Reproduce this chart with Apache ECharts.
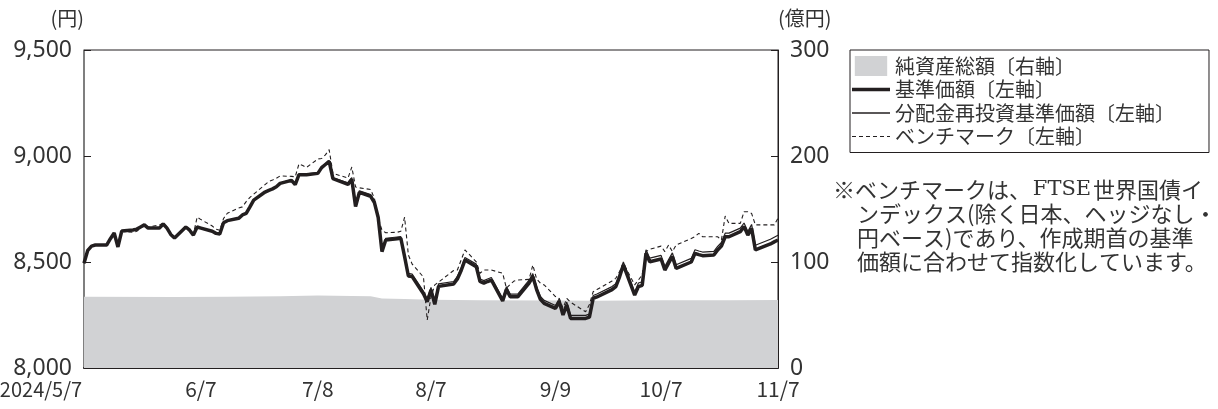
<!DOCTYPE html>
<html><head><meta charset="utf-8">
<script src="https://cdn.jsdelivr.net/npm/echarts@6/dist/echarts.min.js"></script>
<style>html,body{margin:0;padding:0;background:#fff}#c{width:1218px;height:409px}</style>
</head><body><div id="c"></div>
<script>
// ---- data ----
const dates = [
'2024-05-07','2024-05-08','2024-05-09','2024-05-10','2024-05-13','2024-05-14','2024-05-15','2024-05-16','2024-05-17','2024-05-20',
'2024-05-21','2024-05-22','2024-05-23','2024-05-24','2024-05-27','2024-05-28','2024-05-29','2024-05-30','2024-05-31',
'2024-06-03','2024-06-04','2024-06-05','2024-06-06','2024-06-07','2024-06-10','2024-06-11','2024-06-12','2024-06-13','2024-06-14',
'2024-06-17','2024-06-18','2024-06-19','2024-06-20','2024-06-21','2024-06-24','2024-06-25','2024-06-26','2024-06-27','2024-06-28',
'2024-07-01','2024-07-02','2024-07-03','2024-07-04','2024-07-05','2024-07-08','2024-07-09','2024-07-10','2024-07-11','2024-07-12',
'2024-07-16','2024-07-17','2024-07-18','2024-07-19','2024-07-22','2024-07-23','2024-07-24','2024-07-25','2024-07-26','2024-07-29',
'2024-07-30','2024-07-31',
'2024-08-01','2024-08-02','2024-08-05','2024-08-06','2024-08-07','2024-08-08','2024-08-09','2024-08-13','2024-08-14','2024-08-15',
'2024-08-16','2024-08-19','2024-08-20','2024-08-21','2024-08-22','2024-08-23','2024-08-26','2024-08-27','2024-08-28','2024-08-29','2024-08-30',
'2024-09-02','2024-09-03','2024-09-04','2024-09-05','2024-09-06','2024-09-09','2024-09-10','2024-09-11','2024-09-12','2024-09-13',
'2024-09-17','2024-09-18','2024-09-19','2024-09-20','2024-09-24','2024-09-25','2024-09-26','2024-09-27','2024-09-30',
'2024-10-01','2024-10-02','2024-10-03','2024-10-04','2024-10-07','2024-10-08','2024-10-09','2024-10-10','2024-10-11','2024-10-15',
'2024-10-16','2024-10-17','2024-10-18','2024-10-21','2024-10-22','2024-10-23','2024-10-24','2024-10-25','2024-10-28','2024-10-29',
'2024-10-30','2024-10-31',
'2024-11-01','2024-11-05','2024-11-06','2024-11-07'
];
// 基準価額
const navValues = [
8494,8555,8575,8580,8580,8610,8637,8571,8646,8651,8655,8665,8675,8660,8660,8679,8660,8630,8613,
8665,8650,8627,8665,8660,8645,8635,8632,8685,8695,8706,8722,8729,8760,8792,8830,8838,8845,8855,8871,
8885,8865,8912,8912,8912,8918,8945,8960,8975,8893,8866,8890,8762,8828,8810,8780,8710,8549,8604,8610,8612,8525,
8434,8431,8350,8313,8368,8300,8385,8396,8420,8460,8509,8478,8408,8400,8408,8415,8316,8371,8336,8336,8336,
8400,8431,8370,8324,8305,8281,8313,8250,8297,8234,8234,8240,8328,8335,8370,8384,8430,8486,8344,
8384,8390,8541,8501,8514,8462,8495,8526,8470,8500,8541,8535,8530,8533,8557,8575,8619,8619,8643,8667,8627,8659,
8557,8585,8595,8604
];
// 分配金再投資基準価額
const reinvestValues = [
8494,8555,8575,8580,8580,8610,8637,8571,8646,8651,8655,8665,8675,8660,8660,8679,8660,8630,8613,
8666,8651,8628,8666,8661,8646,8636,8633,8686,8696,8707,8723,8730,8761,8793,8831,8839,8846,8856,8872,
8889,8869,8916,8916,8916,8922,8949,8964,8979,8897,8874,8898,8770,8836,8818,8788,8718,8557,8612,8618,8620,8533,
8446,8443,8362,8325,8380,8312,8397,8408,8432,8472,8521,8490,8420,8412,8420,8427,8328,8383,8348,8348,8348,
8414,8445,8384,8338,8319,8295,8327,8264,8311,8248,8248,8254,8342,8349,8384,8398,8444,8500,8358,
8401,8407,8558,8518,8531,8479,8512,8543,8487,8517,8558,8552,8547,8550,8574,8592,8636,8636,8660,8684,8644,8677,
8579,8607,8617,8626
];
// ベンチマーク
const benchValues = [
8494,8555,8578,8582,8580,8610,8635,8575,8645,8640,8645,8660,8678,8665,8675,8684,8665,8635,8615,
8670,8655,8630,8712,8700,8670,8655,8650,8705,8730,8755,8760,8785,8805,8820,8865,8880,8887,8895,8906,
8904,8902,8963,8955,8946,8986,8988,9005,9030,8918,8896,8948,8854,8850,8842,8800,8706,8650,8638,8640,8645,8711,
8533,8490,8429,8226,8336,8392,8405,8460,8462,8510,8557,8501,8447,8462,8462,8462,8447,8376,8395,8410,8415,
8418,8486,8420,8400,8392,8337,8328,8283,8328,8310,8265,8300,8360,8370,8410,8423,8455,8494,8392,
8415,8440,8549,8560,8575,8549,8580,8549,8580,8611,8620,8635,8619,8619,8619,8604,8717,8682,8682,8737,8737,8729,
8675,8675,8675,8707
];
// 純資産総額（億円）
const assetDates  = ['2024-05-07','2024-05-31','2024-06-14','2024-06-28','2024-07-08','2024-07-17','2024-07-22','2024-07-25','2024-07-31','2024-08-07','2024-08-20','2024-09-09','2024-09-20','2024-10-07','2024-10-25','2024-11-07'];
const assetValues = [67.2,67.0,67.3,67.8,68.3,68.0,67.6,65.6,65.0,64.3,64.0,63.6,63.5,63.8,64.0,64.1];

const xTickDates  = ['2024-05-07','2024-06-07','2024-07-08','2024-08-07','2024-09-09','2024-10-07','2024-11-07'];
const xTickLabels = ['2024/5/7','6/7','7/8','8/7','9/9','10/7','11/7'];
const leftAxisRange  = {min: 8000, max: 9500, interval: 500};
const rightAxisRange = {min: 0, max: 300, interval: 100};
const seriesNames = ['純資産総額〔右軸〕','基準価額〔左軸〕','分配金再投資基準価額〔左軸〕','ベンチマーク〔左軸〕'];
const noteLines = ['※ベンチマークは、{s|FTSE}世界国債イ','ンデックス(除く日本、ヘッジなし・','円ベース)であり、作成期首の基準','価額に合わせて指数化しています。'];

// ---- build ----
const FONT = "'Noto Sans CJK JP','Noto Sans',sans-serif";
const NUMFONT = "'Noto Sans','Noto Sans CJK JP',sans-serif";
const INK = '#231f20';
const GREY = '#d1d2d4';
function ts(s){const p=s.split('-').map(Number);return Date.UTC(p[0],p[1]-1,p[2]);}
const pair = (ds, vs) => ds.map((d,i)=>[ts(d), vs[i]]);
const tickTs = xTickDates.map(ts);

const chart = echarts.init(document.getElementById('c'), null, {renderer:'canvas'});
chart.setOption({
  animation: false,
  backgroundColor: '#fff',
  grid: {left: 84, right: 440, top: 50, bottom: 41, show: true, borderColor: INK, borderWidth: 1,
         backgroundColor: 'transparent', containLabel: false, outerBoundsMode: 'none'},
  xAxis: {
    type: 'value', min: tickTs[0], max: tickTs[tickTs.length-1],
    axisLine: {show: true, lineStyle: {color: INK, width: 2}},
    axisTick: {show: true, inside: true, length: 7, customValues: tickTs, lineStyle: {color: INK, width: 1}},
    axisLabel: {
      customValues: tickTs, margin: 11, fontSize: 21, color: '#333', fontFamily: FONT,
      formatter: (v) => { const i = tickTs.indexOf(v); if (i < 0) return ''; return i === 0 ? '{first|' + xTickLabels[i] + '}' : xTickLabels[i]; },
      rich: {first: {fontSize: 20, color: '#333', fontFamily: FONT, padding: [0, 86, 0, 0]}}
    },
    splitLine: {show: false}
  },
  yAxis: [{
    type: 'value', position: 'left', min: leftAxisRange.min, max: leftAxisRange.max, interval: leftAxisRange.interval,
    axisLine: {show: true, lineStyle: {color: '#7a7a7a', width: 1.5}},
    axisTick: {show: true, inside: true, length: 7, lineStyle: {color: INK}},
    axisLabel: {margin: 12, fontSize: 23, color: '#333', fontFamily: NUMFONT, formatter: v => v.toLocaleString('en-US')},
    splitLine: {show: false},
    name: '(円)', nameLocation: 'end', nameGap: 22,
    nameTextStyle: {fontSize: 20, color: '#333', fontFamily: FONT, align: 'right'}
  }, {
    type: 'value', position: 'right', min: rightAxisRange.min, max: rightAxisRange.max, interval: rightAxisRange.interval,
    axisLine: {show: true, lineStyle: {color: INK, width: 1}},
    axisTick: {show: true, inside: true, length: 7, lineStyle: {color: INK}},
    axisLabel: {margin: 12, fontSize: 23, color: '#333', fontFamily: NUMFONT},
    splitLine: {show: false},
    name: '(億円)', nameLocation: 'end', nameGap: 22,
    nameTextStyle: {fontSize: 20, color: '#333', fontFamily: FONT, align: 'left'}
  }],
  legend: {
    orient: 'vertical', left: 850, top: 50,
    padding: [6, 34, 6, 2], itemGap: 3.5, itemWidth: 38, itemHeight: 20,
    borderColor: INK, borderWidth: 1, borderRadius: 0,
    selectedMode: false,
    itemStyle: {borderWidth: 0},
    textStyle: {fontSize: 20, color: '#333', fontFamily: FONT, lineHeight: 20},
    data: [
      {name: seriesNames[0], icon: 'path://M0,0H34V21H0Z', itemStyle: {color: GREY, borderWidth: 0}},
      {name: seriesNames[1], icon: 'path://M0,0H38V3.4H0Z', itemStyle: {color: INK, borderWidth: 0}},
      {name: seriesNames[2], icon: 'path://M0,0H38V1.3H0Z', itemStyle: {color: INK, borderWidth: 0}},
      {name: seriesNames[3], icon: 'path://M0,0H4V1.2H0Z M7,0H11V1.2H7Z M14,0H18V1.2H14Z M21,0H25V1.2H21Z M28,0H32V1.2H28Z M35,0H38V1.2H35Z', itemStyle: {color: INK, borderWidth: 0}}
    ]
  },
  series: [
    {name: seriesNames[0], type: 'line', yAxisIndex: 1, data: pair(assetDates, assetValues), symbol: 'none',
     color: GREY, lineStyle: {width: 0, color: GREY}, areaStyle: {color: GREY, opacity: 1}, z: 1},
    {name: seriesNames[1], type: 'line', data: pair(dates, navValues), symbol: 'none', color: INK,
     lineStyle: {color: INK, width: 3.5}, z: 3},
    {name: seriesNames[2], type: 'line', data: pair(dates, reinvestValues), symbol: 'none', color: INK,
     lineStyle: {color: INK, width: 1.2}, z: 4},
    {name: seriesNames[3], type: 'line', data: pair(dates, benchValues), symbol: 'none', color: INK,
     lineStyle: {color: INK, width: 1.1, type: [4, 3]}, z: 5}
  ],
  graphic: [
    {type: 'text', x: 833, y: 190, style: {text: noteLines[0], fill: '#333', font: '22px ' + FONT, verticalAlign: 'middle',
      rich: {s: {width: 62, align: 'center', fontSize: 21, fontFamily: "'DejaVu Serif',serif", fill: '#333'}}}},
    {type: 'text', x: 857, y: 214, style: {text: noteLines[1], fill: '#333', font: '22px ' + FONT, verticalAlign: 'middle'}},
    {type: 'text', x: 857, y: 238, style: {text: noteLines[2], fill: '#333', font: '22px ' + FONT, verticalAlign: 'middle'}},
    {type: 'text', x: 857, y: 262, style: {text: noteLines[3], fill: '#333', font: '22px ' + FONT, verticalAlign: 'middle'}}
  ]
});
</script>
</body></html>
